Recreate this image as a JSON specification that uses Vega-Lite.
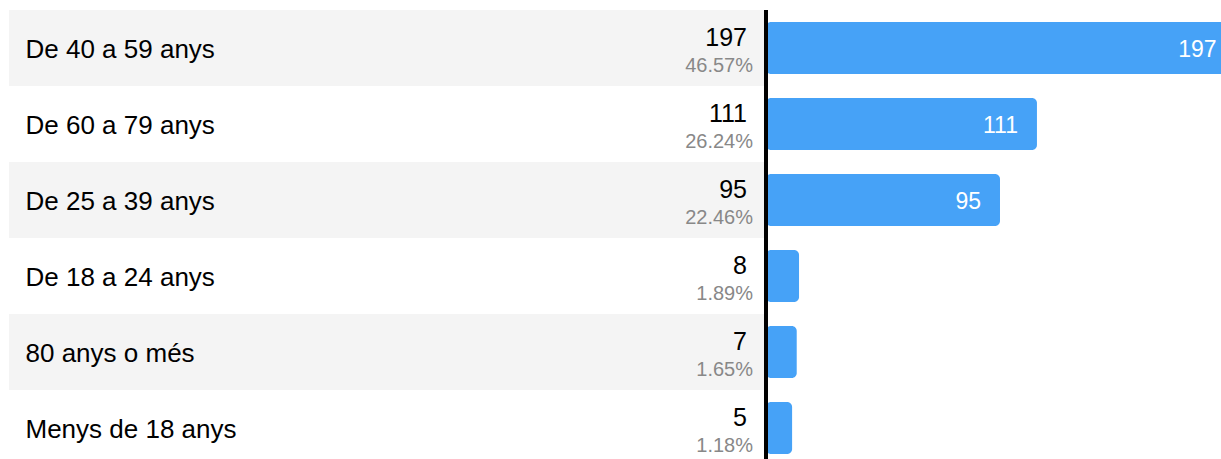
{
  "$schema": "https://vega.github.io/schema/vega-lite/v6.json",
  "padding": {"left": 9, "top": 8, "right": 0, "bottom": 0},
  "spacing": 0,
  "bounds": "flush",
  "config": {"view": {"stroke": null}, "font": "Liberation Sans", "concat": {"spacing": 0}},
  "data": {
    "values": [
      {"age": "De 40 a 59 anys", "count": 197, "pct": 0.4657},
      {"age": "De 60 a 79 anys", "count": 111, "pct": 0.2624},
      {"age": "De 25 a 39 anys", "count": 95, "pct": 0.2246},
      {"age": "De 18 a 24 anys", "count": 8, "pct": 0.0189},
      {"age": "80 anys o més", "count": 7, "pct": 0.0165},
      {"age": "Menys de 18 anys", "count": 5, "pct": 0.0118}
    ]
  },
  "hconcat": [
    {
      "width": 757,
      "height": 456,
      "transform": [{"window": [{"op": "row_number", "as": "i"}]}],
      "mark": {"type": "rect"},
      "encoding": {
        "y": {
          "field": "age",
          "type": "nominal",
          "sort": null,
          "scale": {"paddingInner": 0, "paddingOuter": 0},
          "axis": {
            "title": null,
            "domain": false,
            "ticks": false,
            "tickSize": 0,
            "labelAlign": "left",
            "labelPadding": -16,
            "labelFontSize": 26,
            "labelColor": "#000000",
            "labelFont": "Liberation Sans",
            "labelBaseline": "alphabetic",
            "labelOffset": 10,
            "labelLimit": 0,
            "zindex": 1
          }
        },
        "color": {
          "condition": {"test": "datum.i % 2 == 1", "value": "#f4f4f4"},
          "value": "#ffffff"
        }
      }
    },
    {
      "width": 480,
      "height": 456,
      "encoding": {
        "y": {
          "field": "age",
          "type": "nominal",
          "sort": null,
          "scale": {"paddingInner": 0, "paddingOuter": 0},
          "axis": null
        }
      },
      "layer": [
        {
          "mark": {"type": "bar", "color": "#46a2f7", "cornerRadius": 5, "height": {"band": 0.684}},
          "encoding": {
            "x": {
              "field": "count",
              "type": "quantitative",
              "scale": {"domain": [-6.3, 201.5], "nice": false, "zero": false},
              "axis": null
            },
            "x2": {"datum": -6.3}
          }
        },
        {
          "mark": {"type": "rule", "color": "#000000", "strokeWidth": 3.5},
          "encoding": {"x": {"datum": -6.3}, "y": null}
        },
        {
          "mark": {"type": "text", "align": "right", "baseline": "alphabetic", "dx": -19, "dy": -2, "fontSize": 25, "color": "#000000"},
          "encoding": {
            "x": {"datum": -6.3},
            "text": {"field": "count", "type": "quantitative"}
          }
        },
        {
          "mark": {"type": "text", "align": "right", "baseline": "alphabetic", "dx": -13, "dy": 23.7, "fontSize": 20, "color": "#888888"},
          "encoding": {
            "x": {"datum": -6.3},
            "text": {"field": "pct", "type": "quantitative", "format": ".2%"}
          }
        },
        {
          "transform": [{"filter": "datum.count > 20"}],
          "mark": {"type": "text", "align": "right", "baseline": "alphabetic", "dx": -19, "dy": 9.3, "fontSize": 23, "color": "#ffffff"},
          "encoding": {
            "x": {"field": "count", "type": "quantitative"},
            "text": {"field": "count", "type": "quantitative"}
          }
        }
      ]
    }
  ]
}
